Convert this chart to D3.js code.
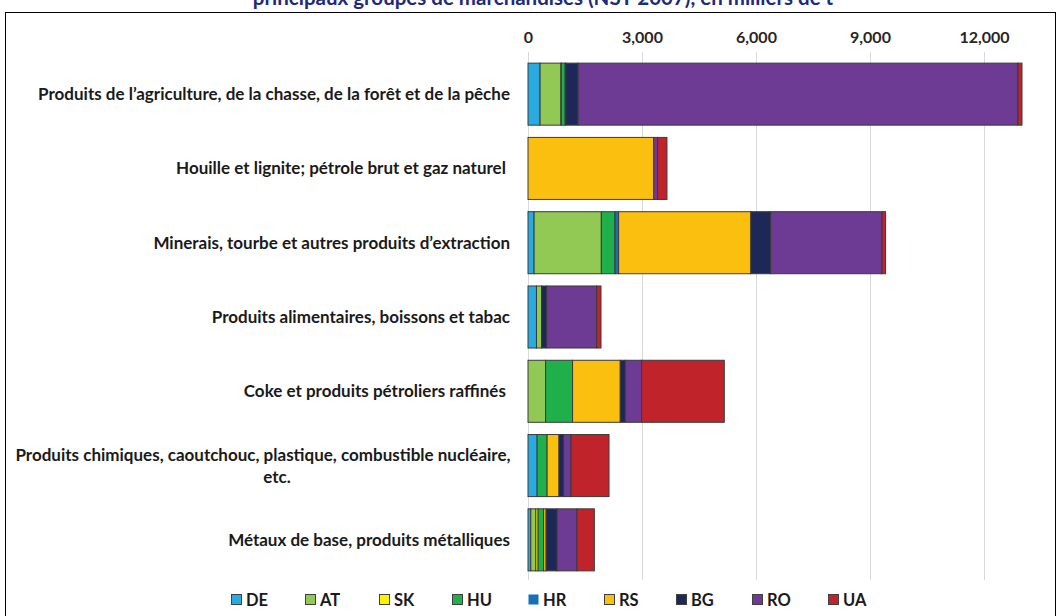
<!DOCTYPE html>
<html>
<head>
<meta charset="utf-8">
<script src="https://cdn.jsdelivr.net/npm/d3@7"></script>
<style>
  html, body { margin: 0; padding: 0; background: #fff; }
  svg { display: block; font-family: Lato, "Open Sans", sans-serif; }
</style>
</head>
<body>
<svg id="chart" width="1061" height="616"></svg>
<script>
// Goods groups (NST 2007), thousands of tonnes
const categories = [
  "Produits de l\u2019agriculture, de la chasse, de la forêt et de la pêche",
  "Houille et lignite; pétrole brut et gaz naturel ",
  "Minerais, tourbe et autres produits d\u2019extraction",
  "Produits alimentaires, boissons et tabac",
  "Coke et produits pétroliers raffinés ",
  "Produits chimiques, caoutchouc, plastique, combustible nucléaire,|etc.",
  "Métaux de base, produits métalliques"
];
const countries = ["DE", "AT", "SK", "HU", "HR", "RS", "BG", "RO", "UA"];
const DE = [318, 0, 160, 223, 0, 240, 74];
const AT = [550, 0, 1770, 135, 463, 0, 132];
const SK = [10, 0, 0, 0, 0, 0, 60];
const HU = [100, 0, 360, 0, 710, 263, 145];
const HR = [16, 0, 95, 0, 0, 0, 0];
const RS = [0, 3305, 3480, 0, 1255, 313, 66];
const BG = [324, 0, 520, 132, 132, 121, 290];
const RO = [11577, 105, 2930, 1316, 430, 195, 524];
const UA = [105, 247, 95, 115, 2175, 1000, 455];
const xTicks = [0, 3000, 6000, 9000, 12000];
const colors = ["#29ABE2", "#92C854", "#FFF200", "#1FAF4B", "#1570B8", "#FBBF10", "#1D2858", "#6D3A94", "#C1232B"];

const seriesValues = { DE, AT, SK, HU, HR, RS, BG, RO, UA };
const rows = categories.map((c, i) => {
  const r = { category: c };
  countries.forEach(k => { r[k] = seriesValues[k][i]; });
  return r;
});
const stacked = d3.stack().keys(countries)(rows);

const svg = d3.select("#chart");

// title (first line sits above the frame)
svg.append("text")
  .attr("x", 543).attr("y", 5)
  .attr("text-anchor", "middle")
  .attr("font-size", 20.5).attr("font-weight", 700)
  .attr("fill", "#1F2A7A")
  .text("principaux groupes de marchandises (NST 2007), en milliers de t");

// frame
svg.append("rect")
  .attr("x", 5.5).attr("y", 12.5)
  .attr("width", 1050).attr("height", 620)
  .attr("fill", "none").attr("stroke", "#000").attr("stroke-width", 1);

const x = d3.scaleLinear().domain([0, 13500]).range([528, 1041]);
const y = d3.scaleBand().domain(categories).range([57, 577])
  .paddingInner(0.165).paddingOuter(0.0825);
const color = d3.scaleOrdinal().domain(countries).range(colors);

// gridlines
svg.append("g").selectAll("line").data(xTicks).join("line")
  .attr("x1", d => Math.round(x(d)) + 0.5).attr("x2", d => Math.round(x(d)) + 0.5)
  .attr("y1", 52).attr("y2", 580)
  .attr("stroke", "#D9D9D9").attr("stroke-width", 1);

// top axis labels
const axis = svg.append("g").attr("transform", "translate(0,38)")
  .call(d3.axisTop(x).tickValues(xTicks).tickFormat(d3.format(",")).tickSize(0));
axis.select(".domain").remove();
axis.selectAll("text")
  .attr("font-family", "Lato, 'Open Sans', sans-serif")
  .attr("font-size", 16).attr("font-weight", 700).attr("fill", "#262626")
  .attr("dy", "0.32em").attr("y", 0);

// stacked bars
svg.append("g").selectAll("g").data(stacked).join("g")
  .attr("fill", d => color(d.key))
  .selectAll("rect").data(d => d.filter(s => s[1] > s[0])).join("rect")
  .attr("x", d => x(d[0]))
  .attr("width", d => x(d[1]) - x(d[0]))
  .attr("y", d => y(d.data.category))
  .attr("height", y.bandwidth())
  .attr("stroke", "#3A3A3A").attr("stroke-width", 1);

// category labels
const labels = svg.append("g").selectAll("text").data(categories).join("text")
  .attr("font-size", 17).attr("font-weight", 700).attr("fill", "#1A1A1A")
  .attr("xml:space", "preserve");
labels.each(function (c) {
  const parts = c.split("|");
  const t = d3.select(this);
  const cy = y(c) + y.bandwidth() / 2;
  if (parts.length === 1) {
    t.attr("x", 510).attr("y", cy).attr("dy", "0.35em").attr("text-anchor", "end").text(c);
  } else {
    t.attr("text-anchor", "middle");
    parts.forEach((p, i) => {
      t.append("tspan").attr("x", i === 0 ? 263 : 277)
        .attr("y", cy + (i - (parts.length - 1) / 2) * 22)
        .attr("dy", "0.35em").text(p);
    });
  }
});

// legend
const legendX = [231, 305, 379, 452, 528, 604, 676, 752, 828];
const lg = svg.append("g").selectAll("g").data(countries).join("g")
  .attr("transform", (d, i) => `translate(${legendX[i]},600)`);
lg.append("rect")
  .attr("x", 0.5).attr("y", -5.5).attr("width", 10).attr("height", 10)
  .attr("fill", d => color(d))
  .attr("stroke", d => d === "HR" ? "none" : "#404040").attr("stroke-width", 1);
lg.append("text")
  .attr("x", 15).attr("y", 0).attr("dy", "0.36em")
  .attr("font-size", 16.5).attr("font-weight", 700).attr("fill", "#1A1A1A")
  .text(d => d);
</script>
</body>
</html>
